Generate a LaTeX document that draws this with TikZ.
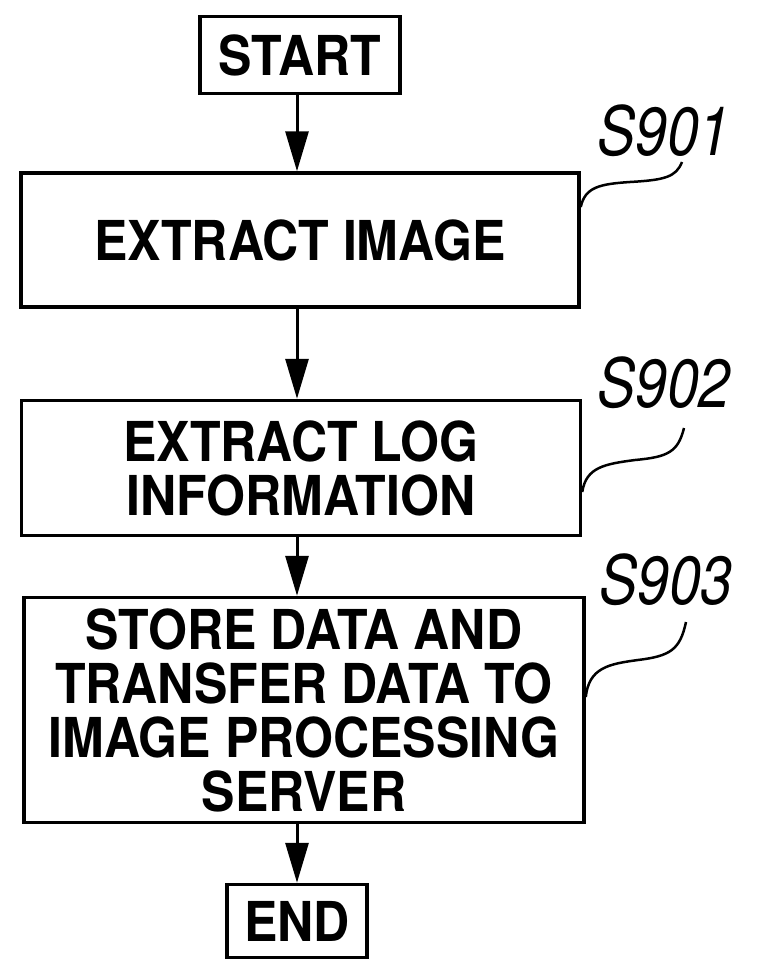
\documentclass[tikz,border=0pt]{standalone}
\usepackage{fontspec}
\setmainfont{TeX Gyre Heros}
\newfontfamily\boxfont[FakeStretch=0.91]{TeX Gyre Heros}
\newfontfamily\lblfont[FakeStretch=0.84]{TeX Gyre Heros}
\usetikzlibrary{arrows.meta}
\begin{document}
\begin{tikzpicture}[x=1pt,y=-1pt,
  stepbox/.style={draw, line width=3.5pt, align=center, inner sep=0pt,
    font=\boxfont\fontsize{55}{54}\selectfont\bfseries},
  flow/.style={line width=3pt, -{Triangle[length=40pt,width=23pt]}},
  lbl/.style={font=\lblfont\fontsize{68}{68}\selectfont\itshape},
  lead/.style={line width=2.5pt}]
\fill[white] (0,0) rectangle (767,979);
\node[stepbox, minimum width=200pt, minimum height=77pt] (start) at (300,55) {START};
\node[stepbox, minimum width=558pt, minimum height=134pt] (img) at (300,240) {EXTRACT IMAGE};
\node[stepbox, minimum width=559pt, minimum height=135pt] (log) at (301,468) {EXTRACT LOG\\INFORMATION};
\node[stepbox, minimum width=560pt, minimum height=225pt] (store) at (304,710) {STORE DATA AND\\TRANSFER DATA TO\\IMAGE PROCESSING\\SERVER};
\node[stepbox, minimum width=140pt, minimum height=73pt] (end) at (297,921) {END};
\draw[flow] (start.south -| 297,0) coordinate (a1) -- (a1 |- img.north);
\draw[flow] (img.south -| 297,0) coordinate (a2) -- (a2 |- log.north);
\draw[flow] (log.south -| 297,0) coordinate (a3) -- (a3 |- store.north);
\draw[flow] (store.south -| 297,0) coordinate (a4) -- (a4 |- end.north);
\node[lbl] (l1) at (664,131) {S901};
\node[lbl] (l2) at (664,383) {S902};
\node[lbl] (l3) at (666,580) {S903};
\coordinate (e1) at (682,162);
\coordinate (e2) at (684,428);
\coordinate (e3) at (686,622);
\draw[lead] (img.east |- 0,207) .. controls (585,187) and (600,184) .. (630,182) .. controls (665,180) and (676,177) .. (e1);
\draw[lead] (log.east |- 0,492) .. controls (586,467) and (605,464) .. (635,460) .. controls (668,457) and (678,452) .. (e2);
\draw[lead] (store.east |- 0,697) .. controls (589,668) and (608,664) .. (638,660) .. controls (670,656) and (680,650) .. (e3);
\end{tikzpicture}
\end{document}
